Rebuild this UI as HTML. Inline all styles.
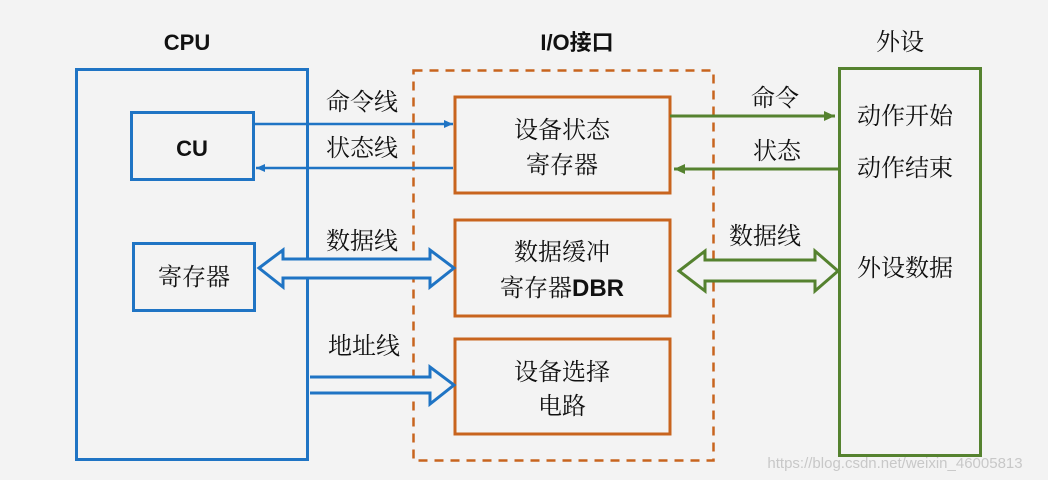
<!DOCTYPE html>
<html><head><meta charset="utf-8"><style>
html,body{margin:0;padding:0;background:#f3f3f3;}
svg{display:block}
text{font-family:"Liberation Sans","Noto Sans CJK SC",sans-serif;fill:#111;}
.s{font-family:"Noto Serif CJK SC","Noto Sans CJK SC",serif;}
</style></head><body>
<svg width="1048" height="480" viewBox="0 0 1048 480" xmlns="http://www.w3.org/2000/svg">
<rect width="1048" height="480" fill="#f3f3f3"/>
<defs>
<marker id="ab" markerWidth="10" markerHeight="10" refX="9" refY="5" orient="auto" markerUnits="userSpaceOnUse"><path d="M0,1 L9,5 L0,9 Z" fill="#1f74c4"/></marker>
<marker id="ag" markerWidth="12" markerHeight="12" refX="11" refY="6" orient="auto" markerUnits="userSpaceOnUse"><path d="M0,1 L11,6 L0,11 Z" fill="#55822f"/></marker>
</defs>
<!-- headings -->
<text x="187" y="50" font-size="22" font-weight="bold" text-anchor="middle">CPU</text>
<text x="577" y="50" font-size="22" font-weight="bold" text-anchor="middle" font-family="Liberation Sans,Noto Sans CJK SC,sans-serif">I/O接口</text>
<text x="900" y="50" font-size="24" text-anchor="middle" class="s">外设</text>
<!-- CPU -->
<rect x="76.5" y="69.5" width="231" height="390" fill="none" stroke="#1f74c4" stroke-width="3"/>
<rect x="131.5" y="112.5" width="122" height="67" fill="none" stroke="#1f74c4" stroke-width="3"/>
<text x="192" y="156" font-size="22" font-weight="bold" text-anchor="middle">CU</text>
<rect x="133.5" y="243.5" width="121" height="67" fill="none" stroke="#1f74c4" stroke-width="3"/>
<text x="194" y="285" font-size="24" text-anchor="middle" class="s">寄存器</text>
<!-- IO dashed -->
<rect x="413.5" y="70.5" width="300" height="390" fill="none" stroke="#c8641e" stroke-width="2.5" stroke-dasharray="9,7"/>
<rect x="455" y="97" width="215" height="96" fill="#f3f3f3" stroke="#c8641e" stroke-width="3"/>
<text x="562" y="138" font-size="24" text-anchor="middle" class="s">设备状态</text>
<text x="562" y="173" font-size="24" text-anchor="middle" class="s">寄存器</text>
<rect x="455" y="220" width="215" height="96" fill="#f3f3f3" stroke="#c8641e" stroke-width="3"/>
<text x="562" y="260" font-size="24" text-anchor="middle" class="s">数据缓冲</text>
<text x="562" y="296" font-size="24" text-anchor="middle"><tspan class="s">寄存器</tspan><tspan font-weight="bold">DBR</tspan></text>
<rect x="455" y="339" width="215" height="95" fill="#f3f3f3" stroke="#c8641e" stroke-width="3"/>
<text x="562" y="380" font-size="24" text-anchor="middle" class="s">设备选择</text>
<text x="562" y="414" font-size="24" text-anchor="middle" class="s">电路</text>
<!-- peripheral -->
<rect x="839.5" y="68.5" width="141" height="387" fill="none" stroke="#55822f" stroke-width="3"/>
<text x="905" y="124" font-size="24" text-anchor="middle" class="s">动作开始</text>
<text x="905" y="176" font-size="24" text-anchor="middle" class="s">动作结束</text>
<text x="905" y="276" font-size="24" text-anchor="middle" class="s">外设数据</text>
<!-- CPU-IO lines -->
<text x="362" y="110" font-size="24" text-anchor="middle" class="s">命令线</text>
<line x1="254" y1="124" x2="453" y2="124" stroke="#1f74c4" stroke-width="2.5" marker-end="url(#ab)"/>
<text x="362" y="156" font-size="24" text-anchor="middle" class="s">状态线</text>
<line x1="453" y1="168" x2="256" y2="168" stroke="#1f74c4" stroke-width="2.5" marker-end="url(#ab)"/>
<text x="362" y="249" font-size="24" text-anchor="middle" class="s">数据线</text>
<path d="M259,268 L283,250 L283,259 L430,259 L430,250 L454,268 L430,287 L430,278 L283,278 L283,287 Z" fill="#f3f3f3" stroke="#1f74c4" stroke-width="3" stroke-linejoin="miter"/>
<text x="364" y="354" font-size="24" text-anchor="middle" class="s">地址线</text>
<path d="M310,377 L430,377 L430,367 L454,385 L430,404 L430,393 L310,393" fill="#f3f3f3" stroke="#1f74c4" stroke-width="3"/>
<!-- IO-peripheral -->
<text x="775" y="106" font-size="24" text-anchor="middle" class="s">命令</text>
<line x1="670" y1="116" x2="835" y2="116" stroke="#55822f" stroke-width="3" marker-end="url(#ag)"/>
<text x="777" y="159" font-size="24" text-anchor="middle" class="s">状态</text>
<line x1="838" y1="169" x2="674" y2="169" stroke="#55822f" stroke-width="3" marker-end="url(#ag)"/>
<text x="765" y="244" font-size="24" text-anchor="middle" class="s">数据线</text>
<path d="M679,271 L705,251 L705,260 L815,260 L815,251 L838,271 L815,291 L815,281 L705,281 L705,291 Z" fill="#f3f3f3" stroke="#55822f" stroke-width="3"/>
<text x="895" y="468" font-size="15" text-anchor="middle" fill="#c8c8c8" style="fill:#c8c8c8">https://blog.csdn.net/weixin_46005813</text>
</svg>
</body></html>
